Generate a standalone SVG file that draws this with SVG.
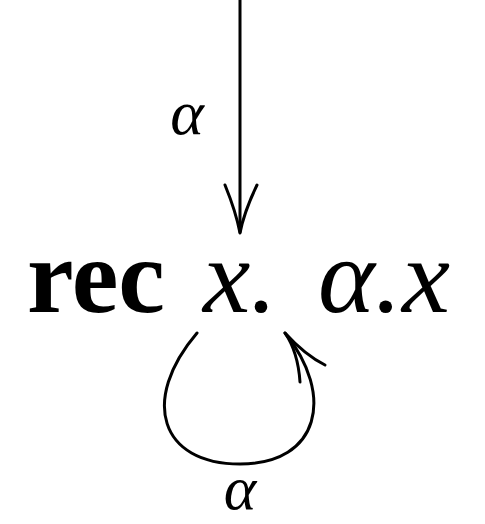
<svg xmlns="http://www.w3.org/2000/svg" width="485" height="524" viewBox="0 0 485 524">
<style>
.ln{fill:none;stroke:#000;stroke-width:3;stroke-linecap:round;stroke-linejoin:round}
.t{font-family:"Liberation Serif",serif;fill:#000}
.i{font-style:italic}
.b{font-weight:bold}
</style>
<rect width="485" height="524" fill="#fff"/>
<g id="connectors">
<path class="ln" d="M240,0 L240,232"/>
<path class="ln" d="M225,185 Q236,212 240,233 Q244,212 257,185"/>
<path class="ln" d="M197,333 C140,400 160,464 240,464 C320,464 335,395 285,333"/>
<path class="ln" d="M300,382 Q298,352 285,333 Q305,355 325,365"/>
</g>
<g id="label-top"><text class="t i" x="187" y="134" font-size="64" text-anchor="middle">α</text></g>
<g id="node-rec">
<text class="t b" x="27" y="312" font-size="105" textLength="138" lengthAdjust="spacingAndGlyphs">rec</text>
<text class="t i" x="203" y="312" font-size="105" textLength="74" lengthAdjust="spacingAndGlyphs">x.</text>
<text class="t i" x="318" y="312" font-size="105" textLength="132" lengthAdjust="spacingAndGlyphs">α.x</text>
</g>
<g id="label-loop"><text class="t i" x="240" y="509" font-size="62" text-anchor="middle">α</text></g>
</svg>
